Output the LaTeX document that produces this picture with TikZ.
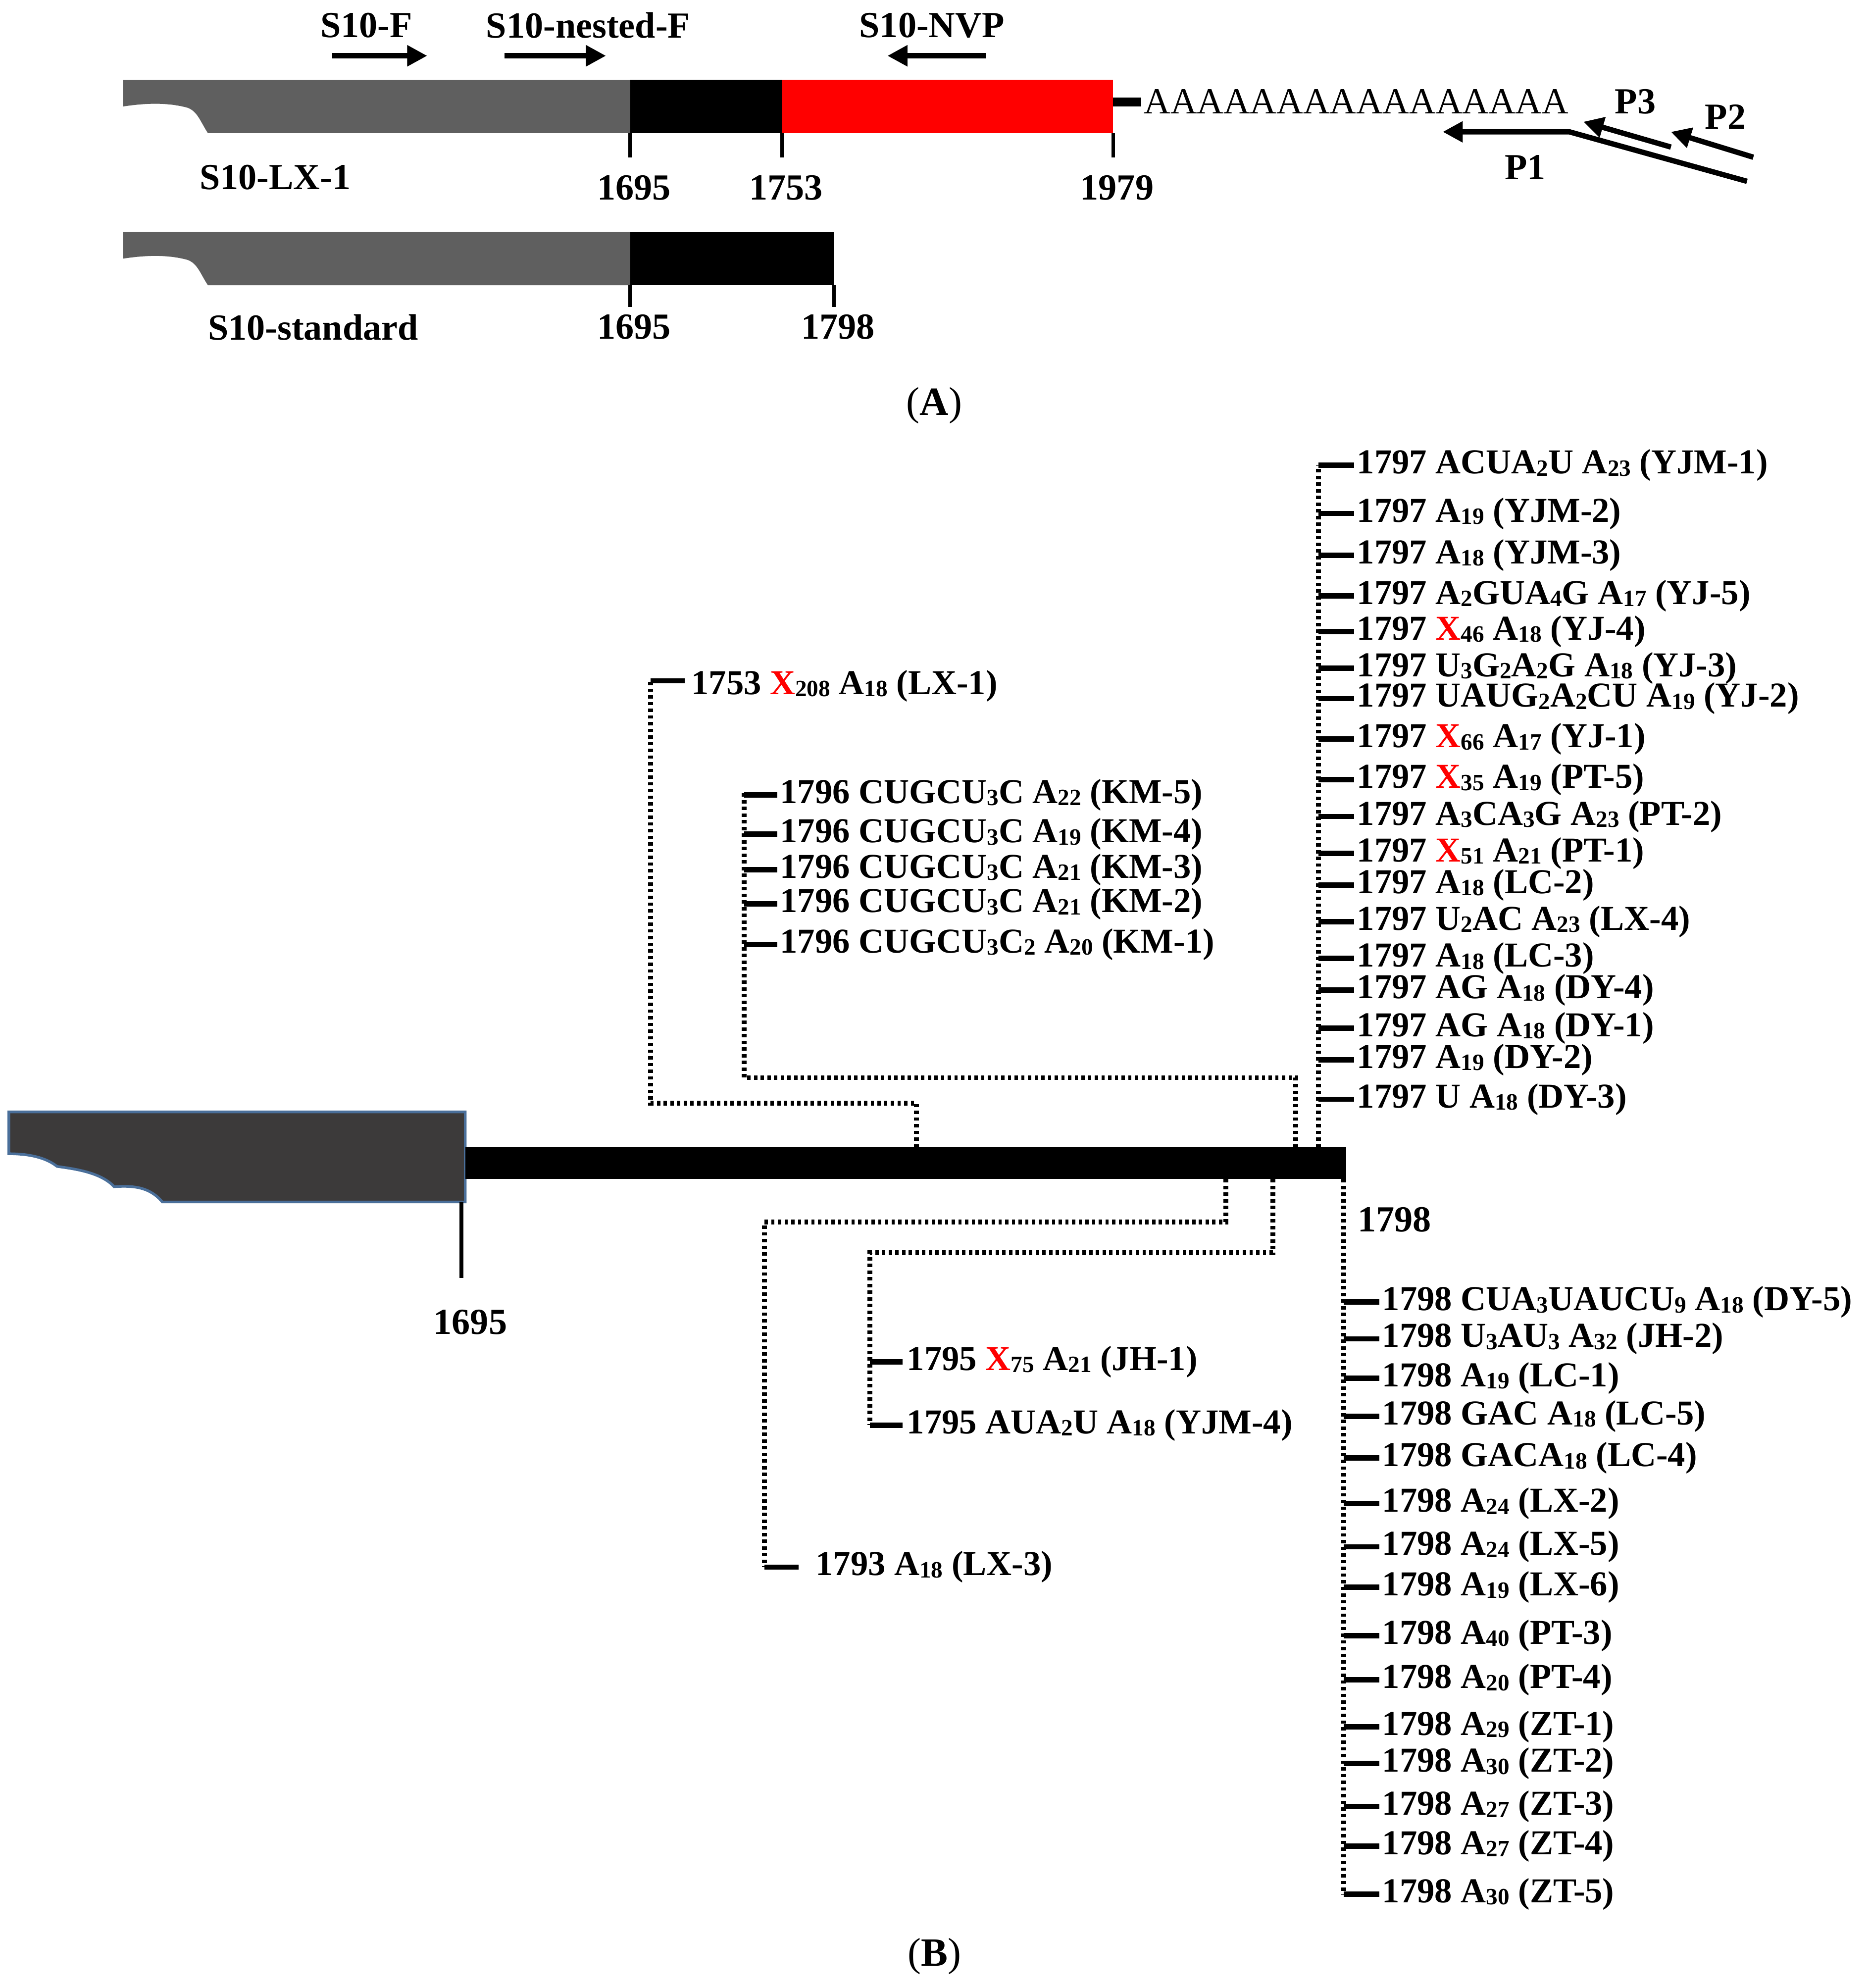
\documentclass[tikz,border=0pt]{standalone}
\usepackage{fontspec}
\setmainfont{Liberation Serif}
\usetikzlibrary{arrows.meta}
\definecolor{bargray}{HTML}{5F5F5F}
\definecolor{darkshape}{HTML}{3C3A3A}
\definecolor{shapeedge}{HTML}{4A6F9A}
\newcommand\sbx[1]{{\fontsize{10.5}{10}\selectfont\raisebox{-0.2ex}{#1}}}
\newcommand\rx{{\color{red}X}}
\tikzset{
  lab/.style={font=\fontsize{15.7}{18}\selectfont\bfseries, inner sep=0pt, anchor=west},
  alab/.style={font=\fontsize{16.5}{18}\selectfont\bfseries, inner sep=0pt},
  tickln/.style={line width=2.4pt},
  dotln/.style={line width=2.2pt, dash pattern=on 1.5pt off 1.5pt},
  primer/.style={line width=2.4pt, -{Triangle[length=9pt,width=9pt]}},
  scaleln/.style={line width=1.6pt}
}
\begin{document}
\begin{tikzpicture}[x=0.02cm,y=-0.02cm]
\useasboundingbox (0,0) rectangle (1475,1568);
% ---------- Panel A ----------
\fill[bargray] (97,63) -- (497,63) -- (497,105) -- (164,105) .. controls (158,96) and (156,88) .. (148,85) .. controls (130,80) and (110,82) .. (97,84) -- cycle;
\fill[black] (497,63) rectangle (617,105);
\fill[red] (617,63) rectangle (878,105);
\fill[black] (878,77) rectangle (900,84);
\node[alab, anchor=west, font=\fontsize{16.5}{18}\selectfont] (polyA) at (902,80) {AAAAAAAAAAAAAAAA};
\foreach \x/\t [count=\i] in {497/1695,617/1753,878/1979}{
  \draw[scaleln] (\x,105) -- (\x,124);
  \node[alab] (ta\i) at (\x+3,148) {\t};
}
\node[alab] (lx1) at (217,140) {S10-LX-1};
\node[alab] (sf) at (289,20) {S10-F};
\node[alab] (snf) at (464,20) {S10-nested-F};
\node[alab] (snvp) at (735,20) {S10-NVP};
\draw[primer] (262,44) -- (337,44);
\draw[primer] (398,44) -- (478,44);
\draw[primer] (778,44) -- (700,44);
\draw[primer] (1378,143) -- (1238,104) -- (1138,104);
\draw[primer] (1318,116) -- (1249,96);
\draw[primer] (1383,124) -- (1318,104);
\node[alab] (p1) at (1203,132) {P1};
\node[alab] (p3) at (1290,80) {P3};
\node[alab] (p2) at (1361,92) {P2};
% standard
\fill[bargray] (97,183) -- (497,183) -- (497,225) -- (164,225) .. controls (158,216) and (156,208) .. (148,205) .. controls (130,200) and (110,202) .. (97,204) -- cycle;
\fill[black] (497,183) rectangle (658,225);
\draw[scaleln] (497,225) -- (497,242);
\draw[scaleln] (658,225) -- (658,242);
\node[alab] (sstd) at (247,258) {S10-standard};
\node[alab] (s1695) at (500,258) {1695};
\node[alab] (s1798) at (661,258) {1798};
\node[font=\fontsize{18}{20}\selectfont, inner sep=0pt] (A) at (737,320) {(\textbf{A})};
% ---------- Panel B ----------
\draw[shapeedge, fill=darkshape, line width=1.2pt] (7,877) -- (367,877) -- (367,948) -- (128,948) .. controls (118,936) and (105,935) .. (90,936) .. controls (80,925) and (60,922) .. (45,920) .. controls (35,912) and (20,910) .. (7,910) -- cycle;
\fill[black] (367,905) rectangle (1062,930);
\draw[scaleln] (364,948) -- (364,1008);
\node[alab] (b1695) at (371,1043) {1695};
\node[alab] (b1798) at (1100,962) {1798};
\node[font=\fontsize{18}{20}\selectfont, inner sep=0pt] (B) at (737,1543) {(\textbf{B})};
% LX-1
\draw[dotln] (723,905) -- (723,870) -- (513,870) -- (513,537);
\draw[tickln] (513,537) -- (540,537);
\node[lab] (lx1b) at (545,541) {1753 \rx\sbx{208} A\sbx{18} (LX-1)};
% KM group
\draw[dotln] (1022,905) -- (1022,850) -- (587,850) -- (587,625);
\foreach \y/\t [count=\i] in {627/{CUGCU\sbx{3}C A\sbx{22} (KM-5)},658/{CUGCU\sbx{3}C A\sbx{19} (KM-4)},686/{CUGCU\sbx{3}C A\sbx{21} (KM-3)},713/{CUGCU\sbx{3}C A\sbx{21} (KM-2)},745/{CUGCU\sbx{3}C\sbx{2} A\sbx{20} (KM-1)}}{
  \draw[tickln] (587,\y) -- (613,\y);
  \node[lab] (km\i) at (615,\y) {1796 \t};
}
% 1797 group
\draw[dotln] (1040,905) -- (1040,367);
\foreach \y/\t [count=\i] in {367/{ACUA\sbx{2}U A\sbx{23} (YJM-1)},405/{A\sbx{19} (YJM-2)},438/{A\sbx{18} (YJM-3)},470/{A\sbx{2}GUA\sbx{4}G A\sbx{17} (YJ-5)},498/{\rx\sbx{46} A\sbx{18} (YJ-4)},527/{U\sbx{3}G\sbx{2}A\sbx{2}G A\sbx{18} (YJ-3)},551/{UAUG\sbx{2}A\sbx{2}CU A\sbx{19} (YJ-2)},583/{\rx\sbx{66} A\sbx{17} (YJ-1)},615/{\rx\sbx{35} A\sbx{19} (PT-5)},644/{A\sbx{3}CA\sbx{3}G A\sbx{23} (PT-2)},673/{\rx\sbx{51} A\sbx{21} (PT-1)},698/{A\sbx{18} (LC-2)},727/{U\sbx{2}AC A\sbx{23} (LX-4)},756/{A\sbx{18} (LC-3)},781/{AG A\sbx{18} (DY-4)},811/{AG A\sbx{18} (DY-1)},836/{A\sbx{19} (DY-2)},867/{U A\sbx{18} (DY-3)}}{
  \draw[tickln] (1040,\y) -- (1068,\y);
  \node[lab] (u\i) at (1070,\y) {1797 \t};
}
% 1798 group
\draw[dotln] (1060,930) -- (1060,1494);
\foreach \y/\t [count=\i] in {1027/{CUA\sbx{3}UAUCU\sbx{9} A\sbx{18} (DY-5)},1056/{U\sbx{3}AU\sbx{3} A\sbx{32} (JH-2)},1087/{A\sbx{19} (LC-1)},1117/{GAC A\sbx{18} (LC-5)},1150/{GACA\sbx{18} (LC-4)},1186/{A\sbx{24} (LX-2)},1220/{A\sbx{24} (LX-5)},1252/{A\sbx{19} (LX-6)},1290/{A\sbx{40} (PT-3)},1325/{A\sbx{20} (PT-4)},1362/{A\sbx{29} (ZT-1)},1391/{A\sbx{30} (ZT-2)},1425/{A\sbx{27} (ZT-3)},1456/{A\sbx{27} (ZT-4)},1494/{A\sbx{30} (ZT-5)}}{
  \draw[tickln] (1060,\y) -- (1088,\y);
  \node[lab] (d\i) at (1090,\y) {1798 \t};
}
% 1795 group
\draw[dotln] (1004,930) -- (1004,988) -- (686,988) -- (686,1124);
\draw[tickln] (686,1074) -- (712,1074);
\node[lab] (jh1) at (715,1074) {1795 \rx\sbx{75} A\sbx{21} (JH-1)};
\draw[tickln] (686,1124) -- (712,1124);
\node[lab] (yjm4) at (715,1124) {1795 AUA\sbx{2}U A\sbx{18} (YJM-4)};
% 1793
\draw[dotln] (967,930) -- (967,964) -- (603,964) -- (603,1236);
\draw[tickln] (603,1236) -- (630,1236);
\node[lab] (lx3) at (643,1236) {1793 A\sbx{18} (LX-3)};
\end{tikzpicture}
\end{document}
